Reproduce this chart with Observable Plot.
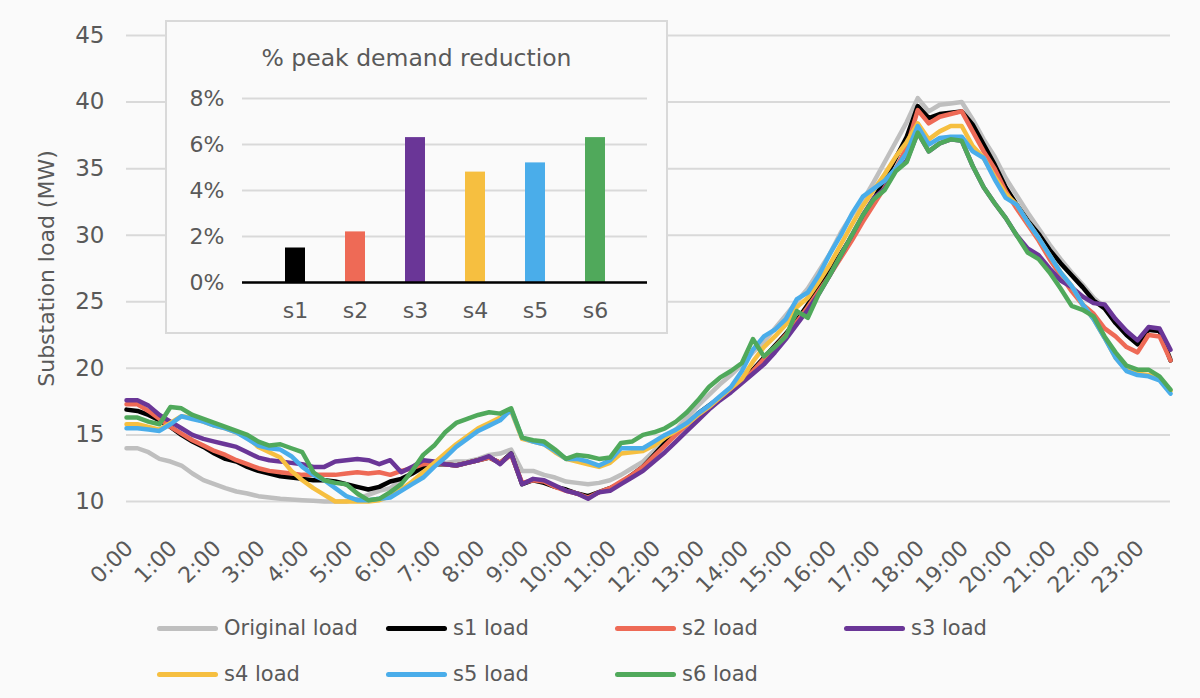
<!DOCTYPE html>
<html>
<head>
<meta charset="utf-8">
<script src="https://cdn.jsdelivr.net/npm/d3@7"></script>
<script src="https://cdn.jsdelivr.net/npm/@observablehq/plot@0.6"></script>
<style>
  body { margin: 0; background: #fafafa; font-family: "DejaVu Sans", sans-serif; color: #595959; }
  #wrap { position: relative; width: 1200px; height: 698px; overflow: hidden; background: #fafafa; }
  #main { position: absolute; left: 0; top: 0; }
  #inset { position: absolute; left: 165px; top: 20px; width: 499px; height: 310px; border: 2px solid #d9d9d9; background: #fafafa; }
  #inset-title { position: absolute; left: 0; right: 0; top: 22px; text-align: center; font-size: 23.5px; color: #595959; }
  #inset-plot { position: absolute; left: 0; top: 60px; }
  #legend { position: absolute; left: 157px; top: 605px; display: grid; grid-template-columns: repeat(4, 229px); grid-auto-rows: 46px; font-size: 21px; color: #595959; }
  .item { display: flex; align-items: center; white-space: nowrap; }
  .sw { width: 61px; height: 5px; border-radius: 3px; margin-right: 6px; flex: none; }
</style>
</head>
<body>
<div id="wrap">
  <div id="main"></div>
  <div id="inset"><div id="inset-title"></div><div id="inset-plot"></div></div>
  <div id="legend"></div>
</div>
<script>
// ---------- data ----------
const hourLabels = ["0:00","1:00","2:00","3:00","4:00","5:00","6:00","7:00","8:00","9:00","10:00","11:00",
  "12:00","13:00","14:00","15:00","16:00","17:00","18:00","19:00","20:00","21:00","22:00","23:00"];
const yTicks = [10, 15, 20, 25, 30, 35, 40, 45];
const yTitle = "Substation load (MW)";

const seriesNames = ["Original load", "s1 load", "s2 load", "s3 load", "s4 load", "s5 load", "s6 load"];
const seriesColors = ["#bfbfbf", "#000000", "#ee6a56", "#6a3697", "#f6bf40", "#4aadea", "#50a95b"];

// 15-minute values, 0:00 .. 23:45
const originalLoad = [
  14.0,14.0,13.7,13.2, 13.0,12.7,12.1,11.6, 11.3,11.0,10.75,10.6, 10.4,10.3,10.2,10.15,
  10.1,10.05,10.0,10.0, 10.0,10.2,10.5,10.8, 11.0,11.6,12.1,12.5, 12.8,12.9,13.0,13.0,
  13.2,13.5,13.6,13.9, 12.3,12.3,12.0,11.8, 11.5,11.4,11.3,11.4, 11.6,12.0,12.5,13.0,
  13.8,14.6,15.4,16.3, 17.2,18.0,18.8,19.5, 20.3,21.2,22.0,23.0, 24.0,25.0,26.0,27.3,
  28.6,30.2,31.5,32.6, 34.0,35.5,37.0,38.5, 40.3,39.3,39.8,39.9, 40.0,38.7,37.2,35.9,
  34.3,33.0,31.7,30.5, 29.3,28.2,27.2,26.3, 25.3,24.6,23.6,22.7, 22.0,22.9,22.8,20.7];
const s1Load = [
  16.9,16.8,16.5,16.1, 15.6,15.0,14.5,14.1, 13.6,13.2,13.0,12.6, 12.3,12.1,11.9,11.8,
  11.7,11.6,11.6,11.5, 11.3,11.1,10.9,11.1, 11.5,11.7,12.1,12.6, 12.8,12.8,12.7,12.9,
  13.1,13.3,12.9,13.6, 11.3,11.6,11.4,11.1, 10.9,10.6,10.4,10.7, 11.0,11.4,12.0,12.6,
  13.5,14.4,15.1,15.8, 16.6,17.2,17.8,18.4, 19.1,19.9,20.8,21.7, 22.6,23.6,24.8,26.0,
  27.3,28.6,29.9,31.3, 32.7,34.2,35.8,37.4, 39.7,38.8,39.1,39.2, 39.3,38.3,36.8,35.3,
  33.6,32.3,31.1,30.1, 28.9,27.9,27.0,26.1, 25.1,24.5,23.4,22.5, 21.8,22.9,22.8,20.6];
const s2Load = [
  17.3,17.3,16.8,16.2, 15.6,15.1,14.6,14.2, 13.8,13.5,13.1,12.8, 12.5,12.3,12.2,12.1,
  12.0,12.0,12.0,12.0, 12.1,12.2,12.1,12.2, 12.0,12.3,12.5,12.8, 12.9,12.8,12.7,12.9,
  13.1,13.3,12.9,13.5, 11.4,11.6,11.5,11.1, 10.8,10.6,10.3,10.7, 11.0,11.5,12.0,12.6,
  13.4,14.2,15.0,15.8, 16.5,17.1,17.7,18.3, 19.0,19.8,20.7,21.6, 22.5,23.5,24.6,25.8,
  27.0,28.3,29.6,31.0, 32.3,33.6,35.0,36.6, 39.4,38.4,38.9,39.1, 39.3,37.8,36.3,35.0,
  33.3,32.0,30.8,29.6, 28.2,27.0,25.8,24.8, 24.1,23.0,22.4,21.6, 21.2,22.5,22.4,20.6];
const s3Load = [
  17.6,17.6,17.2,16.5, 16.0,15.5,15.0,14.7, 14.5,14.3,14.1,13.7, 13.3,13.1,13.0,12.9,
  12.8,12.6,12.6,13.0, 13.1,13.2,13.1,12.8, 13.1,12.2,12.6,13.1, 13.0,12.8,12.7,12.9,
  13.1,13.4,12.8,13.6, 11.3,11.7,11.6,11.2, 10.8,10.6,10.2,10.7, 10.8,11.3,11.8,12.3,
  13.0,13.7,14.5,15.3, 16.1,16.9,17.6,18.2, 18.9,19.6,20.3,21.2, 22.2,23.3,24.4,25.6,
  27.0,28.5,30.0,31.5, 32.8,33.5,34.9,35.6, 37.7,36.3,36.9,37.2, 37.1,35.2,33.6,32.4,
  31.3,30.0,29.0,28.5, 27.5,26.6,26.1,25.4, 24.9,24.8,23.7,22.8, 22.1,23.1,23.0,21.4];
const s4Load = [
  15.8,15.8,15.6,15.4, 15.9,16.4,16.3,16.0, 15.7,15.5,15.2,14.8, 14.1,13.7,13.3,12.3,
  11.6,11.0,10.5,10.0, 10.0,10.0,10.0,10.1, 10.4,10.9,11.5,12.2, 12.9,13.6,14.3,14.9,
  15.5,15.9,16.3,16.8, 14.7,14.5,14.3,13.7, 13.2,13.0,12.8,12.6, 12.9,13.6,13.7,13.8,
  14.2,14.8,15.3,15.8, 16.5,17.1,17.8,18.5, 19.2,20.5,21.6,22.4, 23.3,24.6,25.3,26.5,
  27.8,29.3,30.8,32.2, 33.4,34.6,35.9,37.0, 38.4,37.2,37.8,38.2, 38.2,36.7,35.8,34.4,
  33.1,32.3,31.0,29.8, 28.5,27.2,26.2,24.8, 23.7,22.3,20.8,19.9, 19.6,19.5,19.3,18.3];
const s5Load = [
  15.5,15.5,15.4,15.3, 15.8,16.4,16.2,16.0, 15.7,15.5,15.2,14.7, 14.2,14.0,13.9,13.4,
  12.6,12.0,11.6,11.0, 10.4,10.1,10.1,10.2, 10.3,10.8,11.3,11.8, 12.6,13.3,14.1,14.7,
  15.3,15.7,16.1,16.9, 14.8,14.5,14.3,13.8, 13.2,13.2,13.0,12.7, 13.1,14.0,14.0,14.0,
  14.5,15.0,15.4,15.9, 16.6,17.2,17.9,18.6, 19.8,21.4,22.4,22.9, 23.7,25.2,25.7,27.0,
  28.6,30.0,31.6,32.9, 33.5,34.1,35.0,36.2, 38.2,36.8,37.3,37.4, 37.4,36.3,35.8,34.2,
  32.8,32.3,31.0,29.8, 28.5,27.2,26.2,24.8, 23.7,22.3,20.8,19.8, 19.5,19.4,19.1,18.1];
const s6Load = [
  16.3,16.3,16.0,15.8, 17.1,17.0,16.5,16.2, 15.9,15.6,15.3,15.0, 14.5,14.2,14.3,14.0,
  13.7,12.2,11.6,11.4, 11.3,10.6,10.1,10.2, 10.7,11.3,12.3,13.5, 14.2,15.2,15.9,16.2,
  16.5,16.7,16.6,17.0, 14.8,14.6,14.5,13.9, 13.2,13.5,13.4,13.2, 13.3,14.4,14.5,15.0,
  15.2,15.5,16.0,16.7, 17.6,18.6,19.3,19.8, 20.4,22.2,20.9,21.6, 22.4,24.3,23.8,25.6,
  27.0,28.5,30.0,31.5, 32.7,33.4,34.8,35.5, 37.7,36.3,36.9,37.2, 37.1,35.2,33.6,32.4,
  31.3,30.0,28.7,28.2, 27.2,26.0,24.7,24.4, 23.9,22.4,21.2,20.2, 19.9,19.9,19.4,18.4];
const seriesValues = [originalLoad, s1Load, s2Load, s3Load, s4Load, s5Load, s6Load];

// inset bar chart
const insetTitle = "% peak demand reduction";
const barLabels = ["s1", "s2", "s3", "s4", "s5", "s6"];
const barValues = [1.5, 2.2, 6.3, 4.8, 5.2, 6.3];
const barColors = ["#000000", "#ee6a56", "#6a3697", "#f6bf40", "#4aadea", "#50a95b"];
const barTicks = [0, 2, 4, 6, 8];

// ---------- main chart ----------
const rows = [];
seriesNames.forEach((name, k) => seriesValues[k].forEach((v, i) => rows.push({series: name, t: i / 4, load: v})));

const font = {background: "transparent", fontFamily: "DejaVu Sans, sans-serif", color: "#595959", overflow: "visible"};

const main = Plot.plot({
  width: 1200, height: 600,
  marginLeft: 126, marginRight: 30, marginTop: 35, marginBottom: 99,
  style: {...font, fontSize: "21px"},
  x: {domain: [0, 23.75]},
  y: {domain: [10, 45]},
  color: {domain: seriesNames, range: seriesColors},
  marks: [
    Plot.gridY(yTicks, {stroke: "#d9d9d9", strokeOpacity: 1, strokeWidth: 2}),
    Plot.axisY(yTicks, {tickSize: 0, tickPadding: 22, fontSize: 23, fill: "#595959", label: null}),
    Plot.axisY({tickSize: 0, ticks: [], fontSize: 22, fill: "#595959",
      label: yTitle, labelAnchor: "center", labelArrow: "none", labelOffset: 88}),
    Plot.axisX(hourLabels.map((_, h) => h), {tickFormat: h => hourLabels[h], tickRotate: -45,
      tickSize: 0, tickPadding: 38, dx: 3, dy: 5, fontSize: 22, fill: "#595959", label: null}),
    Plot.line(rows, {x: "t", y: "load", z: "series", stroke: "series", strokeWidth: 4.5,
      strokeLinejoin: "round", strokeLinecap: "round"})
  ]
});
document.getElementById("main").appendChild(main);

// ---------- inset ----------
document.getElementById("inset-title").textContent = insetTitle;
const bars = barLabels.map((s, i) => ({s, v: barValues[i]}));
const inset = Plot.plot({
  width: 499, height: 250,
  marginLeft: 75, marginRight: 19, marginTop: 16, marginBottom: 50,
  style: {...font, fontSize: "22px"},
  x: {domain: barLabels, padding: 0.67},
  y: {domain: [0, 8]},
  color: {domain: barLabels, range: barColors},
  marks: [
    Plot.gridY(barTicks, {stroke: "#d9d9d9", strokeOpacity: 1, strokeWidth: 2}),
    Plot.axisY(barTicks, {tickFormat: d => d + "%", tickSize: 0, tickPadding: 18, fontSize: 22, fill: "#595959", label: null}),
    Plot.axisX({tickSize: 0, tickPadding: 20, fontSize: 22, fill: "#595959", label: null}),
    Plot.barY(bars, {x: "s", y: "v", fill: "s"}),
    Plot.ruleY([0], {stroke: "#000", strokeWidth: 2.5})
  ]
});
document.getElementById("inset-plot").appendChild(inset);

// ---------- legend ----------
const legend = document.getElementById("legend");
seriesNames.forEach((name, k) => {
  const item = document.createElement("div");
  item.className = "item";
  const sw = document.createElement("span");
  sw.className = "sw";
  sw.style.background = seriesColors[k];
  const tx = document.createElement("span");
  tx.textContent = name;
  item.appendChild(sw); item.appendChild(tx);
  legend.appendChild(item);
});
</script>
</body>
</html>
